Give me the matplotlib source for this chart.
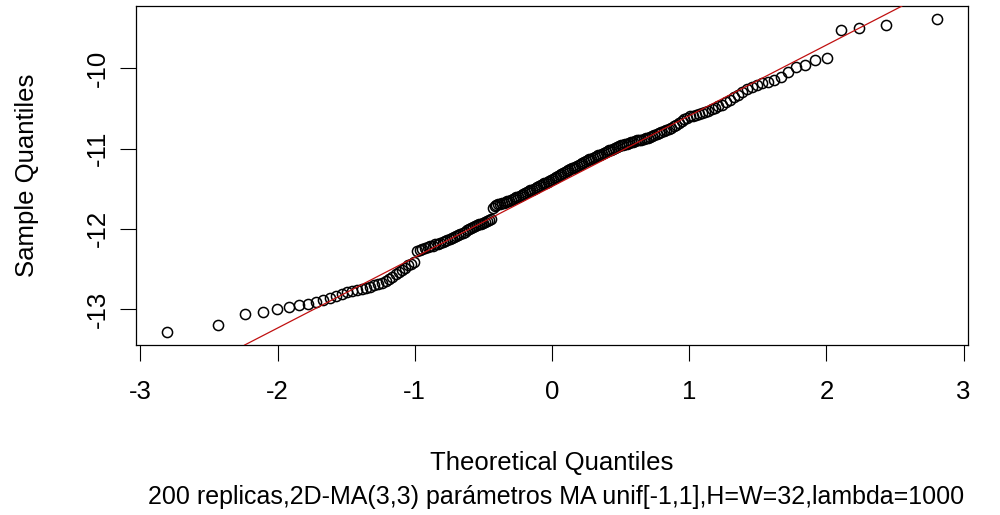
import numpy as np
import matplotlib
matplotlib.use("Agg")
import matplotlib.pyplot as plt

plt.rcParams['font.family'] = ['Liberation Sans', 'DejaVu Sans']

# normal quantiles for n=200 (positive half, the other half is the mirror)
q_pos = [0.006, 0.019, 0.031, 0.044, 0.056, 0.069, 0.082, 0.094, 0.107, 0.119,
         0.132, 0.145, 0.157, 0.170, 0.183, 0.196, 0.208, 0.221, 0.234, 0.247,
         0.260, 0.273, 0.286, 0.299, 0.312, 0.325, 0.338, 0.352, 0.365, 0.379,
         0.392, 0.406, 0.419, 0.433, 0.447, 0.461, 0.475, 0.489, 0.503, 0.517,
         0.532, 0.546, 0.561, 0.575, 0.590, 0.605, 0.620, 0.636, 0.651, 0.667,
         0.682, 0.698, 0.714, 0.731, 0.747, 0.764, 0.781, 0.798, 0.815, 0.833,
         0.851, 0.869, 0.887, 0.906, 0.925, 0.944, 0.964, 0.984, 1.005, 1.026,
         1.047, 1.069, 1.092, 1.115, 1.138, 1.163, 1.188, 1.213, 1.240, 1.267,
         1.296, 1.326, 1.356, 1.388, 1.422, 1.457, 1.495, 1.534, 1.576, 1.621,
         1.670, 1.722, 1.780, 1.845, 1.919, 2.005, 2.108, 2.241, 2.432, 2.807]
theo = np.concatenate([-np.array(q_pos[::-1]), np.array(q_pos)])

# sorted sample values
sample = [-13.283, -13.200, -13.066, -13.041, -13.004, -12.970, -12.945, -12.940, -12.915, -12.893,
          -12.865, -12.838, -12.816, -12.791, -12.778, -12.762, -12.752, -12.739, -12.722, -12.706,
          -12.690, -12.676, -12.653, -12.621, -12.598, -12.566, -12.541, -12.516, -12.486, -12.456,
          -12.438, -12.409, -12.281, -12.263, -12.250, -12.239, -12.227, -12.215, -12.209, -12.193,
          -12.183, -12.172, -12.162, -12.152, -12.137, -12.127, -12.118, -12.103, -12.088, -12.077,
          -12.064, -12.047, -12.034, -12.015, -12.001, -11.993, -11.980, -11.968, -11.954, -11.942,
          -11.934, -11.922, -11.914, -11.902, -11.890, -11.877, -11.735, -11.712, -11.701, -11.694,
          -11.687, -11.680, -11.673, -11.661, -11.655, -11.648, -11.637, -11.625, -11.619, -11.607,
          -11.601, -11.589, -11.578, -11.566, -11.556, -11.544, -11.533, -11.521, -11.511, -11.499,
          -11.488, -11.477, -11.466, -11.455, -11.444, -11.432, -11.422, -11.410, -11.400, -11.388,
          -11.378, -11.366, -11.356, -11.344, -11.334, -11.317, -11.306, -11.290, -11.279, -11.268,
          -11.257, -11.245, -11.235, -11.223, -11.212, -11.200, -11.190, -11.178, -11.167, -11.155,
          -11.144, -11.132, -11.126, -11.114, -11.103, -11.096, -11.085, -11.073, -11.061, -11.049,
          -11.037, -11.030, -11.019, -11.011, -10.999, -10.992, -10.979, -10.972, -10.960, -10.952,
          -10.944, -10.937, -10.928, -10.921, -10.913, -10.905, -10.896, -10.892, -10.889, -10.880,
          -10.868, -10.863, -10.849, -10.839, -10.824, -10.814, -10.804, -10.789, -10.779, -10.769,
          -10.753, -10.737, -10.721, -10.699, -10.677, -10.656, -10.633, -10.615, -10.597, -10.588,
          -10.580, -10.570, -10.560, -10.540, -10.525, -10.508, -10.491, -10.474, -10.450, -10.421,
          -10.390, -10.359, -10.327, -10.294, -10.259, -10.233, -10.210, -10.185, -10.163, -10.139,
          -10.101, -10.045, -9.984, -9.960, -9.900, -9.868, -9.520, -9.496, -9.460, -9.377]

xticks = [-3, -2, -1, 0, 1, 2, 3]
yticks = [-13, -12, -11, -10]
fs = 18.5

fig = plt.figure(figsize=(10, 5.15), dpi=100)
ax = fig.add_axes([0.136, 0.330, 0.832, 0.658])

ax.plot(theo, sample, 'o', mfc='none', mec='black', ms=7.3, mew=1.1, zorder=2)

# qqline through the quartiles
y_q = np.percentile(sample, [25, 75])
x_q = np.array([-0.6744898, 0.6744898])
ax.axline((x_q[0], y_q[0]), (x_q[1], y_q[1]), color='#c01010', lw=0.9, zorder=3)

ax.set_xlim(-3.032, 3.032)
ax.set_ylim(-13.449, -9.223)
ax.set_xticks(xticks)
ax.set_yticks(yticks)
ax.set_xticklabels([str(v) for v in xticks])
ax.set_yticklabels([str(v) for v in yticks])
ax.tick_params(axis='both', direction='out', length=11.5, width=0.8, labelsize=fs, colors='black')
ax.tick_params(axis='x', pad=14)
ax.tick_params(axis='y', pad=7, labelrotation=90)
for lab in ax.get_yticklabels():
    lab.set_va('center')
for s in ax.spines.values():
    s.set_linewidth(0.9)

fig.text(0.552, 1 - 463 / 515, 'Theoretical Quantiles', ha='center', va='center', fontsize=fs)
fig.text(0.556, 1 - 497 / 515, '200 replicas,2D-MA(3,3) parámetros MA unif[-1,1],H=W=32,lambda=1000',
         ha='center', va='center', fontsize=18)
fig.text(0.027, 1 - 175.5 / 515, 'Sample Quantiles', ha='center', va='center', rotation=90, fontsize=fs)

fig.savefig('out.png', dpi=100)
